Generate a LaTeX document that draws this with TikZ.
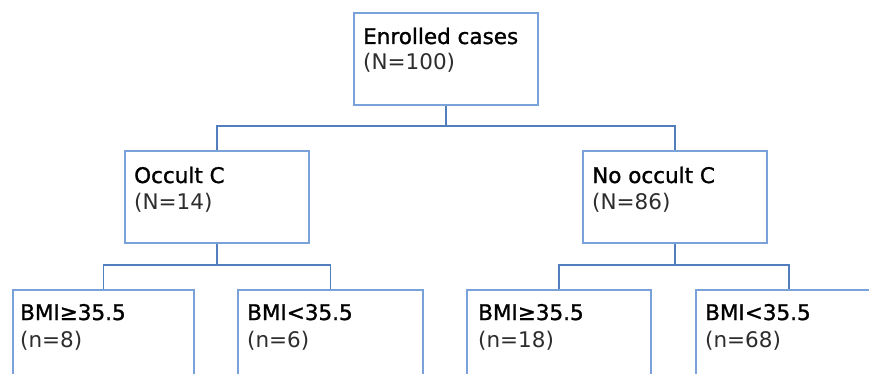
\documentclass[tikz,border=0pt]{standalone}
\usepackage{fontspec}
\setmainfont{DejaVu Sans}
\newfontfamily\heavyfont[FakeBold=1.2]{DejaVu Sans}
\definecolor{boxblue}{RGB}{122,162,218}
\definecolor{lineblue}{RGB}{82,126,190}
\definecolor{subgray}{RGB}{45,45,45}
\begin{document}
\begin{tikzpicture}[x=1pt,y=-1pt,
  box/.style={draw=boxblue,line width=1.8pt,fill=white,minimum width=184pt,minimum height=92pt,inner sep=0pt,anchor=north west},
  tallbox/.style={box,minimum height=130pt},
  conn/.style={draw=lineblue,line width=1.8pt},
  title/.style={anchor=base west,inner sep=0pt,font=\heavyfont\fontsize{21.5}{24}\selectfont,text=black},
  sub/.style={anchor=base west,inner sep=0pt,font=\fontsize{21.5}{24}\selectfont,text=subgray}]
\useasboundingbox (0,0) rectangle (869,374);
\clip (0,0) rectangle (869,374);
% boxes
\node[box] (top) at (353,12) {};
\node[box] (occ) at (124,150) {};
\node[box] (nocc) at (582,150) {};
\node[tallbox,minimum width=181pt] (b1) at (12,289) {};
\node[tallbox,minimum width=185pt] (b2) at (237,289) {};
\node[tallbox] (b3) at (466,289) {};
\node[tallbox,minimum width=186pt] (b4) at (695,289) {};
% texts
\node[title] (ttop) at ([shift={(10,32)}]top.north west) {Enrolled cases};
\node[sub] (stop) at ([shift={(0,26)}]ttop.base west) {(N=100)};
\node[title] (tocc) at ([shift={(10,33)}]occ.north west) {Occult C};
\node[sub] (socc) at ([shift={(0,26)}]tocc.base west) {(N=14)};
\node[title] (tnocc) at ([shift={(10,33)}]nocc.north west) {No occult C};
\node[sub] (snocc) at ([shift={(0,26)}]tnocc.base west) {(N=86)};
\node[title] (tb1) at ([shift={(8,31)}]b1.north west) {BMI≥35.5};
\node[sub] (sb1) at ([shift={(0,27)}]tb1.base west) {(n=8)};
\node[title] (tb2) at ([shift={(10,31)}]b2.north west) {BMI<35.5};
\node[sub] (sb2) at ([shift={(0,27)}]tb2.base west) {(n=6)};
\node[title] (tb3) at ([shift={(12,31)}]b3.north west) {BMI≥35.5};
\node[sub] (sb3) at ([shift={(0,27)}]tb3.base west) {(n=18)};
\node[title] (tb4) at ([shift={(10,31)}]b4.north west) {BMI<35.5};
\node[sub] (sb4) at ([shift={(0,27)}]tb4.base west) {(n=68)};
% junction levels
\coordinate (lev1) at (0,126);
\coordinate (lev2) at (0,265);
% connectors
\draw[conn] (top.south) -- (top.south |- lev1);
\draw[conn] (occ.north) |- (top.south |- lev1) -| (nocc.north);
\draw[conn] (occ.south) -- (occ.south |- lev2);
\draw[conn] (b1.north) |- (occ.south |- lev2) -| (b2.north);
\draw[conn] (nocc.south) -- (nocc.south |- lev2);
\draw[conn] (b3.north) |- (nocc.south |- lev2) -| (b4.north);
\end{tikzpicture}
\end{document}
